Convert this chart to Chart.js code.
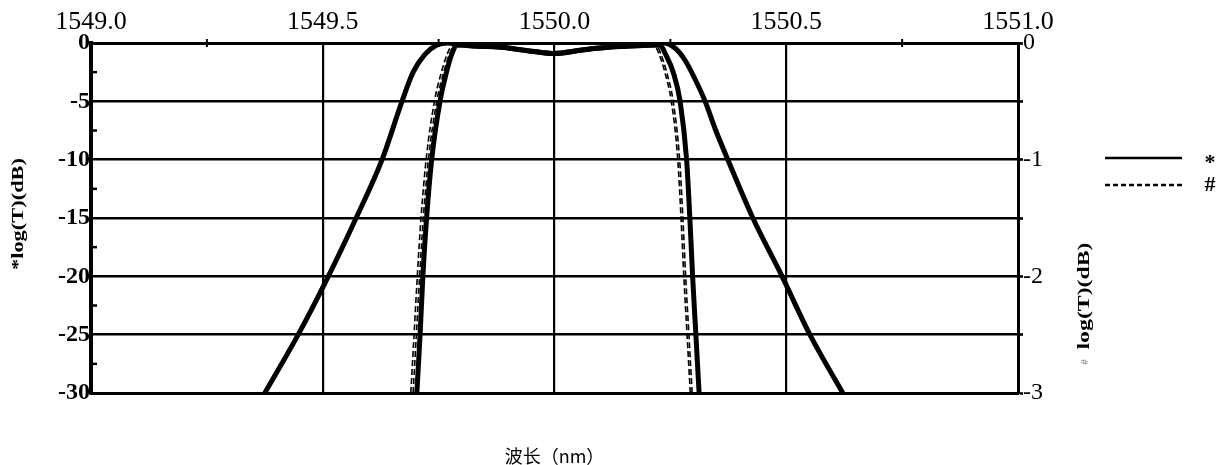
<!DOCTYPE html>
<html><head><meta charset="utf-8">
<script src="https://cdn.jsdelivr.net/npm/chart.js@4/dist/chart.umd.min.js"></script>
<style>html,body{margin:0;padding:0;background:#fff;}#wrap{width:1218px;height:465px;}</style>
</head><body><div id="wrap"><canvas id="c" width="1218" height="465"></canvas></div>
<script>
// ---- tick definitions ----
const xTickValues = [1549.0, 1549.25, 1549.5, 1549.75, 1550.0, 1550.25, 1550.5, 1550.75, 1551.0];
const xTickLabels = ['1549.0', '1549.5', '1550.0', '1550.5', '1551.0'];
const xGridValues = [1549.5, 1550.0, 1550.5];
const xMinorTicks = [1549.25, 1549.75, 1550.25, 1550.75];
const yLeftTicks = [0, -2.5, -5, -7.5, -10, -12.5, -15, -17.5, -20, -22.5, -25, -27.5, -30];
const yLeftLabels = ['0', '-5', '-10', '-15', '-20', '-25', '-30'];
const yLeftMinor = [-2.5, -7.5, -12.5, -17.5, -22.5, -27.5];
const yRightTicks = [0, -0.5, -1, -1.5, -2, -2.5, -3];
const yRightLabels = ['0', '-1', '-2', '-3'];

// ---- series (wavelength nm, value) ----
// "*" wide solid filter response (left axis, dB)
const wideWl = [1549.375, 1549.447, 1549.512, 1549.572, 1549.628, 1549.671, 1549.695, 1549.72, 1549.745, 1549.77,
  1549.82, 1549.88, 1549.95, 1550.0, 1550.06, 1550.12, 1550.2, 1550.235,
  1550.262, 1550.282, 1550.302, 1550.325, 1550.348, 1550.374, 1550.428, 1550.491, 1550.551, 1550.622];
const wideDb = [-30, -25, -20, -15, -10, -5, -2.5, -1, -0.2, 0,
  -0.25, -0.35, -0.7, -0.9, -0.6, -0.35, -0.2, 0,
  -0.5, -1.5, -3, -5, -7.5, -10, -15, -20, -25, -30];
// "*" steep solid filter response (left axis, dB)
const steepWl = [1549.703, 1549.710, 1549.716, 1549.724, 1549.735, 1549.753, 1549.767, 1549.778, 1549.79,
  1549.82, 1549.88, 1549.95, 1550.0, 1550.06, 1550.12, 1550.2, 1550.228,
  1550.24, 1550.256, 1550.271, 1550.285, 1550.292, 1550.298, 1550.305, 1550.312];
const steepDb = [-30, -25, -20, -15, -10, -5, -2.5, -1, -0.2,
  -0.2, -0.35, -0.7, -0.9, -0.6, -0.35, -0.2, -0.2,
  -1, -2.5, -5, -10, -15, -20, -25, -30];
// "#" dashed responses (right axis, dB)
const dashAWl = [1549.690, 1549.697, 1549.704, 1549.712, 1549.723, 1549.741, 1549.756, 1549.768, 1549.78,
  1549.85, 1549.93, 1550.0, 1550.07, 1550.15, 1550.215,
  1550.226, 1550.238, 1550.252, 1550.266, 1550.273, 1550.279, 1550.286, 1550.293];
const dashAVal = [-3, -2.5, -2, -1.5, -1, -0.5, -0.25, -0.1, -0.02,
  -0.03, -0.05, -0.08, -0.05, -0.03, -0.02,
  -0.1, -0.25, -0.5, -1, -1.5, -2, -2.5, -3];
const dashBWl = [1549.695, 1549.702, 1549.709, 1549.717, 1549.728, 1549.746, 1549.761, 1549.773, 1549.785,
  1549.85, 1549.93, 1550.0, 1550.07, 1550.15, 1550.22,
  1550.230, 1550.242, 1550.256, 1550.270, 1550.277, 1550.283, 1550.290, 1550.297];
const dashBVal = [-3, -2.5, -2, -1.5, -1, -0.5, -0.25, -0.1, -0.02,
  -0.04, -0.06, -0.09, -0.06, -0.04, -0.02,
  -0.1, -0.25, -0.5, -1, -1.5, -2, -2.5, -3];

const legendItems = [{label: '*', dash: []}, {label: '#', dash: [5, 3]}];
const xTitle = '波长（nm）';
const yLeftTitle = '*log(T)(dB)';
const yRightTitle = 'log(T)(dB)';
const yRightMark = '#';

const pts = (xs, ys) => xs.map((v, i) => ({x: v, y: ys[i]}));
const near = (a, b) => Math.abs(a - b) < 1e-6;
const serif = '"Liberation Serif", "DejaVu Serif", serif';

function drawStretched(ctx, text, cx, cy, font, len, rot) {
  ctx.save();
  ctx.font = font;
  const w = ctx.measureText(text).width;
  ctx.translate(cx, cy);
  ctx.rotate(rot);
  ctx.scale(len / w, 1);
  ctx.textAlign = 'center';
  ctx.textBaseline = 'middle';
  ctx.fillText(text, 0, 0);
  ctx.restore();
}

const deco = {
  id: 'deco',
  afterDraw(chart) {
    const {ctx, chartArea: ca, scales: {x, y}} = chart;
    ctx.save();
    ctx.strokeStyle = '#000';
    ctx.fillStyle = '#000';
    ctx.lineWidth = 2;
    xMinorTicks.forEach(v => {
      const px = x.getPixelForValue(v);
      ctx.beginPath(); ctx.moveTo(px, ca.top - 4); ctx.lineTo(px, ca.top + 4); ctx.stroke();
    });
    ctx.lineWidth = 2.5;
    yLeftMinor.forEach(v => {
      const py = y.getPixelForValue(v);
      ctx.beginPath(); ctx.moveTo(ca.left - 2, py); ctx.lineTo(ca.left + 6, py); ctx.stroke();
    });
    // axis titles
    drawStretched(ctx, yLeftTitle, 19, (ca.top + ca.bottom) / 2 - 4, 'bold 16px ' + serif, 112, -Math.PI / 2);
    drawStretched(ctx, yRightTitle, ca.right + 67, ca.bottom - 97, 'bold 16px ' + serif, 107, -Math.PI / 2);
    ctx.save();
    ctx.fillStyle = '#777';
    ctx.font = '11px ' + serif;
    ctx.translate(ca.right + 67, ca.bottom - 31);
    ctx.rotate(-Math.PI / 2);
    ctx.textAlign = 'center'; ctx.textBaseline = 'middle';
    ctx.fillText(yRightMark, 0, 0);
    ctx.restore();
    // legend
    legendItems.forEach((it, i) => {
      const ly = ca.top + 115 + i * 27;
      ctx.lineWidth = 2.5;
      ctx.setLineDash(it.dash);
      ctx.beginPath(); ctx.moveTo(ca.right + 87, ly); ctx.lineTo(ca.right + 164, ly); ctx.stroke();
      ctx.setLineDash([]);
      ctx.font = 'bold 22px ' + serif;
      ctx.textAlign = 'center'; ctx.textBaseline = 'middle';
      ctx.fillText(it.label, ca.right + 192, ly + (i === 0 ? 5 : 0));
    });
    ctx.restore();
  }
};

new Chart(document.getElementById('c'), {
  type: 'line',
  data: {
    datasets: [
      {label: '* wide', data: pts(wideWl, wideDb), yAxisID: 'y', xAxisID: 'x', borderColor: '#000', borderWidth: 5},
      {label: '* steep', data: pts(steepWl, steepDb), yAxisID: 'y', xAxisID: 'x', borderColor: '#000', borderWidth: 5},
      {label: '# a', data: pts(dashAWl, dashAVal), yAxisID: 'y2', xAxisID: 'x', borderColor: '#000', borderWidth: 1.6, borderDash: [6, 3]},
      {label: '# b', data: pts(dashBWl, dashBVal), yAxisID: 'y2', xAxisID: 'x', borderColor: '#000', borderWidth: 1.6, borderDash: [6, 3]}
    ]
  },
  options: {
    responsive: false,
    animation: false,
    devicePixelRatio: 1,
    parsing: true,
    layout: {padding: 0},
    elements: {point: {radius: 0}, line: {cubicInterpolationMode: 'monotone', fill: false}},
    plugins: {legend: {display: false}, tooltip: {enabled: false}},
    scales: {
      x: {
        type: 'linear', position: 'top', min: 1549, max: 1551,
        afterBuildTicks: s => { s.ticks = xTickValues.map(v => ({value: v})); },
        afterFit: s => { s.height = 43; },
        ticks: {
          autoSkip: false, maxRotation: 0, padding: 5, color: '#000',
          font: {family: serif, size: 26},
          callback: v => { const i = [1549, 1549.5, 1550, 1550.5, 1551].findIndex(t => near(t, v)); return i >= 0 ? xTickLabels[i] : ''; }
        },
        grid: {
          drawTicks: false,
          color: c => xGridValues.some(t => near(t, c.tick.value)) ? '#000' : 'rgba(0,0,0,0)',
          lineWidth: 2.2
        },
        border: {display: true, color: '#000', width: 3}
      },
      x2: {
        type: 'linear', position: 'bottom', min: 1549, max: 1551,
        afterFit: s => { s.height = 72; },
        ticks: {display: false},
        grid: {drawTicks: false, color: 'rgba(0,0,0,0)'},
        border: {display: true, color: '#000', width: 3},
        title: {display: true, text: xTitle, color: '#000', padding: {top: 0, bottom: 0},
          font: {family: '"Noto Sans CJK SC", sans-serif', size: 18, lineHeight: 1}}
      },
      y: {
        type: 'linear', position: 'left', min: -30, max: 0,
        afterBuildTicks: s => { s.ticks = yLeftTicks.map(v => ({value: v})); },
        afterFit: s => { s.width = 91; },
        ticks: {
          autoSkip: false, padding: 1, color: '#000',
          font: {family: serif, size: 24, weight: 'bold'},
          callback: v => { const i = [0, -5, -10, -15, -20, -25, -30].findIndex(t => near(t, v)); return i >= 0 ? yLeftLabels[i] : ''; }
        },
        grid: {
          drawTicks: false,
          color: c => { const v = c.tick.value; return (near(v % 5, 0) && !near(v, 0) && !near(v, -30)) ? '#000' : 'rgba(0,0,0,0)'; },
          lineWidth: 2.6
        },
        border: {display: true, color: '#000', width: 4}
      },
      y2: {
        type: 'linear', position: 'right', min: -3, max: 0,
        afterBuildTicks: s => { s.ticks = yRightTicks.map(v => ({value: v})); },
        afterFit: s => { s.width = 200; },
        ticks: {
          autoSkip: false, padding: 0, color: '#000',
          font: {family: serif, size: 24},
          callback: v => { const i = [0, -1, -2, -3].findIndex(t => near(t, v)); return i >= 0 ? yRightLabels[i] : ''; }
        },
        grid: {drawOnChartArea: false, drawTicks: true, tickLength: 5, tickWidth: 2.6, tickColor: '#000', color: '#000'},
        border: {display: true, color: '#000', width: 3}
      }
    }
  },
  plugins: [deco]
});
</script>
</body></html>
